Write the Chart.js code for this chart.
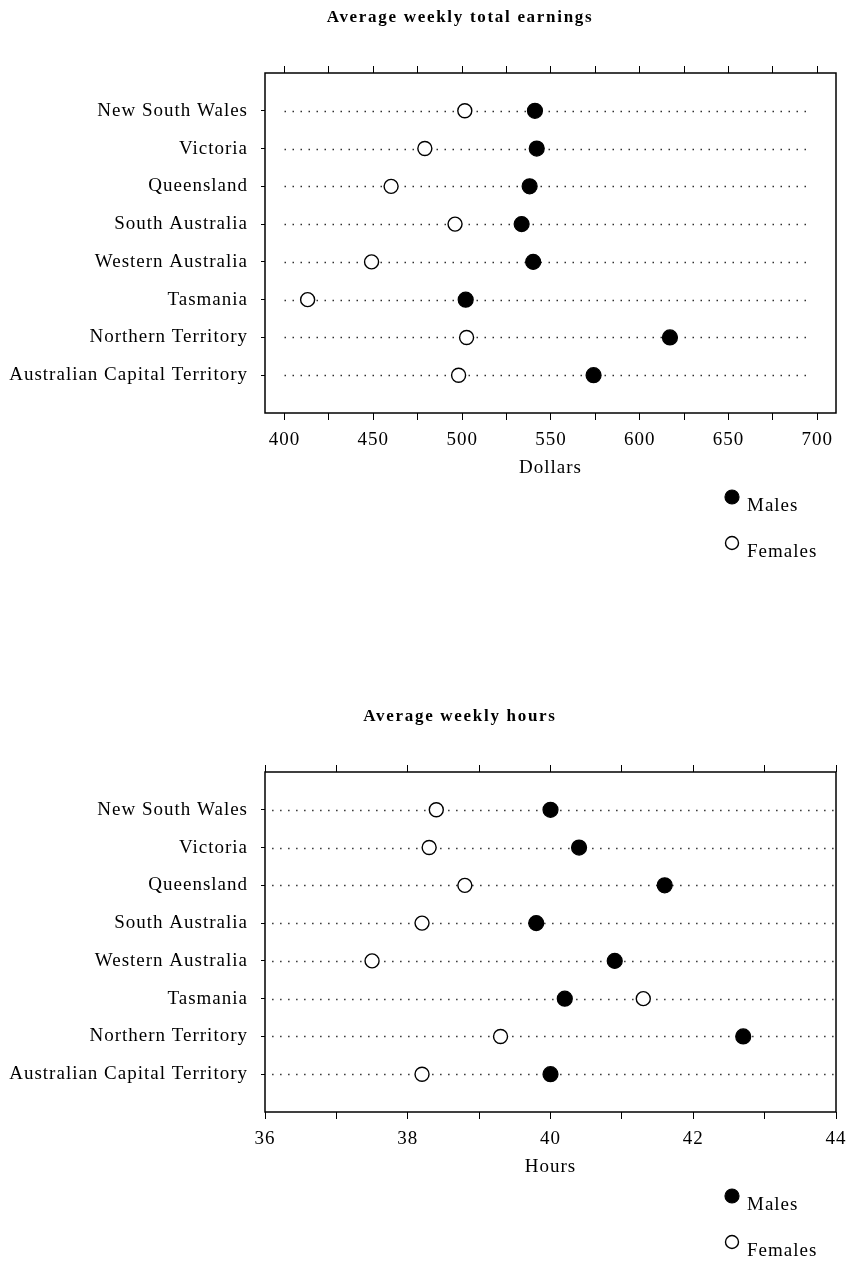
<!DOCTYPE html>
<html>
<head>
<meta charset="utf-8">
<script src="https://cdn.jsdelivr.net/npm/chart.js@4.4.1/dist/chart.umd.min.js"></script>
<style>
  html, body { margin: 0; padding: 0; background: #fff; }
  #wrap { position: relative; width: 847px; height: 1261px; overflow: hidden; background: #fff; }
  canvas { position: absolute; left: 0; }
</style>
</head>
<body>
<div id="wrap">
  <canvas id="c1" width="847" height="699" style="top:0;width:847px;height:699px"></canvas>
  <canvas id="c2" width="847" height="562" style="top:699px;width:847px;height:562px"></canvas>
</div>
<script>
// ---------- data ----------
const states = ['New South Wales', 'Victoria', 'Queensland', 'South Australia',
  'Western Australia', 'Tasmania', 'Northern Territory', 'Australian Capital Territory'];
const seriesNames = ['Males', 'Females'];

const earningsMales   = [541, 542, 538, 533.5, 540, 502, 617, 574];
const earningsFemales = [501.5, 479, 460, 496, 449, 413, 502.5, 498];

const hoursMales   = [40.0, 40.4, 41.6, 39.8, 40.9, 40.2, 42.7, 40.0];
const hoursFemales = [38.4, 38.3, 38.8, 38.2, 37.5, 41.3, 39.3, 38.2];

const earningsTicks = [400, 425, 450, 475, 500, 525, 550, 575, 600, 625, 650, 675, 700];
const earningsLabelled = [400, 450, 500, 550, 600, 650, 700];
const hoursTicks = [36, 37, 38, 39, 40, 41, 42, 43, 44];
const hoursLabelled = [36, 38, 40, 42, 44];

const titles = ['Average weekly total earnings', 'Average weekly hours'];
const axisTitles = ['Dollars', 'Hours'];

// ---------- styling ----------
const FONT = "'Liberation Serif', 'Times New Roman', serif";
Chart.defaults.font.family = FONT;
Chart.defaults.font.size = 19;
Chart.defaults.color = '#000';

const dotPlugin = {
  id: 'dotRows',
  beforeDatasetsDraw(chart, args, opts) {
    const {ctx} = chart;
    const xs = chart.scales.x, ys = chart.scales.y;
    ctx.save();
    ctx.strokeStyle = '#222';
    ctx.lineWidth = 1.4;
    ctx.setLineDash([1.4, 6.6]);
    ys.ticks.forEach(t => {
      const y = Math.round(ys.getPixelForValue(t.value)) + 0.5;
      ctx.beginPath();
      ctx.moveTo(xs.getPixelForValue(opts.from), y);
      ctx.lineTo(xs.getPixelForValue(opts.to), y);
      ctx.stroke();
    });
    ctx.restore();
    // frame
    const a = chart.chartArea;
    ctx.save();
    ctx.strokeStyle = '#000';
    ctx.lineWidth = 1.5;
    ctx.strokeRect(a.left, a.top, a.right - a.left, a.bottom - a.top);
    ctx.restore();
  }
};

const spacingPlugin = {
  id: 'spacing',
  beforeDraw(chart) { chart.ctx.letterSpacing = '1px'; }
};

const titlePlugin = {
  id: 'fixedTitle',
  afterDraw(chart, args, opts) {
    const {ctx, chartArea: a} = chart;
    ctx.save();
    ctx.letterSpacing = '1.7px';
    ctx.font = 'bold 17px ' + FONT;
    ctx.fillStyle = '#000';
    ctx.textAlign = 'center';
    ctx.textBaseline = 'middle';
    ctx.fillText(opts.text, a.left + opts.dx, a.top + opts.dy);
    ctx.restore();
  }
};

const legendPlugin = {
  id: 'stackLegend',
  afterDraw(chart, args, opts) {
    const {ctx, chartArea: a} = chart;
    ctx.save();
    ctx.letterSpacing = '1px';
    chart.data.datasets.forEach((ds, i) => {
      const x = a.right + opts.dx;
      const y = a.bottom + opts.dy + i * opts.gap;
      ctx.beginPath();
      ctx.arc(x, y, ds.pointRadius - 0.5, 0, Math.PI * 2);
      ctx.fillStyle = ds.backgroundColor;
      ctx.fill();
      ctx.lineWidth = ds.borderWidth;
      ctx.strokeStyle = ds.borderColor;
      ctx.stroke();
      ctx.font = '19px ' + FONT;
      ctx.fillStyle = '#000';
      ctx.textAlign = 'left';
      ctx.textBaseline = 'middle';
      ctx.fillText(ds.label, x + 15, y + 9);
    });
    ctx.restore();
  }
};

function makeChart(id, canvasH, males, females, min, max, tickVals, labelled, title, axisTitle, dotFrom, dotTo) {
  const toPts = arr => arr.map((v, i) => ({x: v, y: i + 1}));
  const xGrid = {display: true, drawOnChartArea: false, drawTicks: true, tickLength: 7, color: '#000', lineWidth: 1};
  return new Chart(document.getElementById(id), {
    type: 'scatter',
    data: {
      datasets: [
        {label: seriesNames[0], data: toPts(males), pointRadius: 7.5, pointHoverRadius: 7.5,
         backgroundColor: '#000', borderColor: '#000', borderWidth: 1.2},
        {label: seriesNames[1], data: toPts(females), pointRadius: 7, pointHoverRadius: 7,
         backgroundColor: '#fff', borderColor: '#000', borderWidth: 1.4}
      ]
    },
    options: {
      responsive: false,
      animation: false,
      devicePixelRatio: 1,
      layout: {padding: {top: 66, left: 0, right: 11, bottom: canvasH - 479}},
      plugins: {
        legend: {display: false},
        tooltip: {enabled: false},
        dotRows: {from: dotFrom, to: dotTo},
        fixedTitle: {text: title, dx: 195, dy: -55},
        stackLegend: {dx: -104, dy: 84, gap: 46}
      },
      scales: {
        x: {
          type: 'linear', position: 'bottom', min: min, max: max,
          afterBuildTicks: s => { s.ticks = tickVals.map(v => ({value: v})); },
          afterFit: s => { s.height = 66; s.paddingLeft = 0; s.paddingRight = 0; },
          ticks: {padding: 9, maxRotation: 0, autoSkip: false,
                  callback: v => labelled.includes(v) ? String(v) : ''},
          grid: xGrid,
          border: {display: false},
          title: {display: true, text: axisTitle, padding: {top: 0, bottom: 0}, font: {size: 19}}
        },
        x2: {
          type: 'linear', position: 'top', min: min, max: max,
          afterBuildTicks: s => { s.ticks = tickVals.map(v => ({value: v})); },
          afterFit: s => { s.height = 7; s.paddingLeft = 0; s.paddingRight = 0; },
          ticks: {display: false},
          grid: xGrid,
          border: {display: false}
        },
        y: {
          type: 'linear', position: 'left', min: 0, max: 9, reverse: true,
          afterBuildTicks: s => { s.ticks = states.map((_, i) => ({value: i + 1})); },
          afterFit: s => { s.width = 265; s.paddingTop = 0; s.paddingBottom = 0; },
          ticks: {padding: 13, autoSkip: false, callback: v => states[v - 1] || ''},
          grid: {display: true, drawOnChartArea: false, drawTicks: true, tickLength: 4, color: '#000'},
          border: {display: false}
        }
      }
    },
    plugins: [spacingPlugin, dotPlugin, titlePlugin, legendPlugin]
  });
}

makeChart('c1', 699, earningsMales, earningsFemales, 389, 710.5, earningsTicks, earningsLabelled,
  titles[0], axisTitles[0], 400, 697);
makeChart('c2', 562, hoursMales, hoursFemales, 36, 44, hoursTicks, hoursLabelled,
  titles[1], axisTitles[1], 36.1, 44);
</script>
</body>
</html>
